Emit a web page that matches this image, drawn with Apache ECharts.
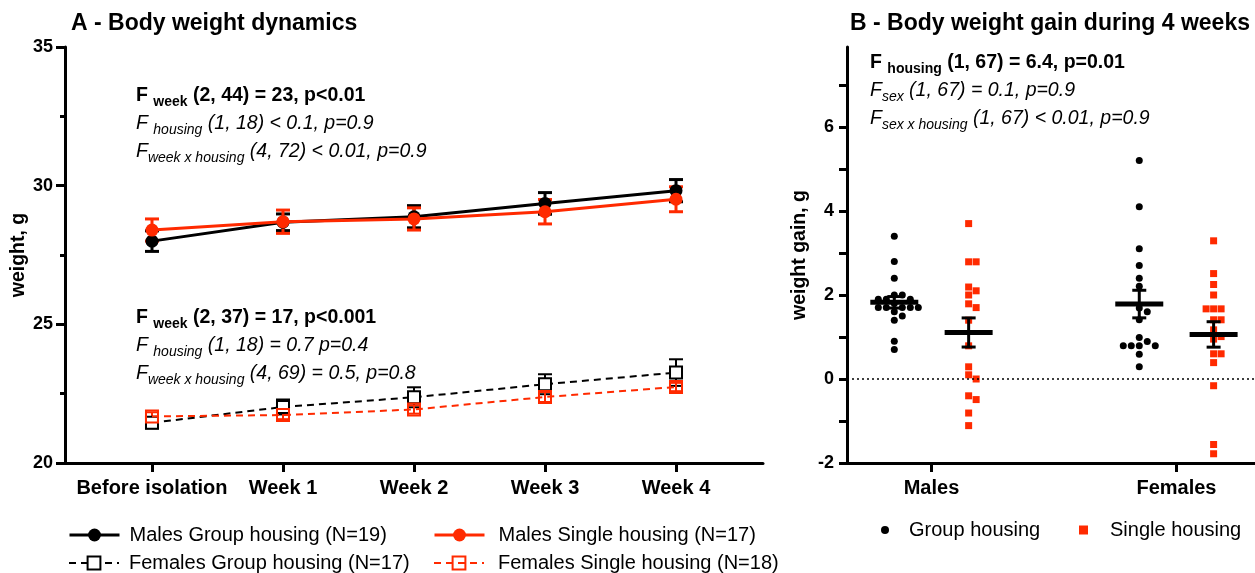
<!DOCTYPE html>
<html><head><meta charset="utf-8">
<script src="https://cdn.jsdelivr.net/npm/echarts@6/dist/echarts.min.js"></script>
<style>html,body{margin:0;padding:0;background:#fff}#c{width:1255px;height:573px}</style>
</head><body><div id="c"></div>
<script>
// ---------- Panel A data ----------
const weeks = ['Before isolation', 'Week 1', 'Week 2', 'Week 3', 'Week 4'];
const malesGroupMean = [28.0, 28.68, 28.88, 29.36, 29.82];
const malesGroupSE = [0.37, 0.30, 0.40, 0.39, 0.40];
const malesSingleMean = [28.40, 28.70, 28.80, 29.06, 29.51];
const malesSingleSE = [0.40, 0.42, 0.40, 0.44, 0.45];
const femalesGroupMean = [21.45, 22.02, 22.37, 22.84, 23.26];
const femalesGroupSE = [0.20, 0.27, 0.36, 0.36, 0.48];
const femalesSingleMean = [21.68, 21.73, 21.93, 22.38, 22.74];
const femalesSingleSE = [0.15, 0.15, 0.15, 0.18, 0.15];
const seriesNamesA = ['Males Group housing (N=19)', 'Males Single housing (N=17)',
  'Females Group housing (N=17)', 'Females Single housing (N=18)'];

// ---------- Panel B data ----------
const sexes = ['Males', 'Females'];
const malesGroupGain = [3.4, 2.8, 2.4, 2.0, 2.0, 1.9, 1.9, 1.9, 1.8, 1.7, 1.7, 1.7, 1.7, 1.7, 1.6, 1.5, 1.4, 0.9, 0.7];
const malesSingleGain = [3.7, 2.79, 2.79, 2.19, 2.1, 2.0, 1.79, 1.7, 1.4, 0.79, 0.29, 0.1, 0.0, -0.4, -0.49, -0.81, -1.11];
const femalesGroupGain = [5.2, 4.1, 3.1, 2.7, 2.4, 2.21, 1.69, 1.6, 1.41, 0.99, 0.89, 0.79, 0.79, 0.79, 0.79, 0.59, 0.29];
const femalesSingleGain = [3.29, 2.51, 2.25, 2.0, 1.67, 1.67, 1.67, 1.41, 1.41, 1.17, 1.01, 0.95, 0.6, 0.6, 0.39, -0.16, -1.56, -1.78];

// ---------- style / layout ----------
const FF = '"Liberation Sans", Arial, Helvetica, sans-serif';
const RED = '#ff2a00';
const sexPos = [1, 3.9];          // x positions of the two sex categories in panel B
const groupShift = 0.44;          // group / single offset in panel B
const bXmax = 4.83;
const gridTop = 47, gridBottom = 110;
const bLeft = 847, bWidth = 1255 - 847;
const pxPerX = bWidth / bXmax;
const bYmin = -2, bYmax = -2 + (573 - gridTop - gridBottom) / 42;
const pxPerY = (573 - gridTop - gridBottom) / (bYmax - bYmin);

function swarm(values, spacing) {
  const order = values.map((v, i) => i).sort((a, b) => values[b] - values[a]);
  const placed = [], offs = new Array(values.length);
  order.forEach(i => {
    const y = values[i] * pxPerY;
    for (let k = 0; k < 40; k++) {
      const cand = (k === 0 ? 0 : (k % 2 ? 1 : -1) * Math.ceil(k / 2)) * spacing;
      const ok = placed.every(p => (p.x - cand) ** 2 + (p.y - y) ** 2 >= spacing * spacing * 0.95);
      if (ok) { offs[i] = cand; placed.push({ x: cand, y }); break; }
    }
  });
  return offs;
}
function points(values, center, spacing) {
  const o = swarm(values, spacing);
  return values.map((v, i) => [center + o[i] / pxPerX, v]);
}
function meanSem(values) {
  const n = values.length, m = values.reduce((a, b) => a + b, 0) / n;
  const sd = Math.sqrt(values.reduce((a, b) => a + (b - m) ** 2, 0) / (n - 1));
  return [m, sd / Math.sqrt(n)];
}

const groupPts = points(malesGroupGain, sexPos[0] - groupShift, 8).concat(points(femalesGroupGain, sexPos[1] - groupShift, 8));
const singlePts = points(malesSingleGain, sexPos[0] + groupShift, 7.5).concat(points(femalesSingleGain, sexPos[1] + groupShift, 7.5));
const summaries = [
  [sexPos[0] - groupShift, ...meanSem(malesGroupGain)],
  [sexPos[0] + groupShift, ...meanSem(malesSingleGain)],
  [sexPos[1] - groupShift, ...meanSem(femalesGroupGain)],
  [sexPos[1] + groupShift, ...meanSem(femalesSingleGain)]
];

function errSeries(mean, se, color, w) {
  return {
    type: 'custom', xAxisIndex: 0, yAxisIndex: 0, z: 1, silent: true,
    data: mean.map((v, i) => [i, v, se[i]]), encode: { x: 0, y: 1 },
    renderItem(params, api) {
      const x = api.value(0), m = api.value(1), s = api.value(2);
      const t = api.coord([x, m + s]), b = api.coord([x, m - s]);
      const st = { stroke: color, lineWidth: w };
      return { type: 'group', children: [
        { type: 'line', shape: { x1: t[0], y1: t[1], x2: b[0], y2: b[1] }, style: st },
        { type: 'line', shape: { x1: t[0] - 7, y1: t[1], x2: t[0] + 7, y2: t[1] }, style: st },
        { type: 'line', shape: { x1: b[0] - 7, y1: b[1], x2: b[0] + 7, y2: b[1] }, style: st }
      ] };
    }
  };
}

const axisLineStyle = { color: '#000', width: 3 };
const tickLabel = { color: '#000', fontFamily: FF, fontWeight: 'bold', fontSize: 18 };

function annot(x, y, main, sub, rest, bold) {
  const base = { fontFamily: FF, fontSize: 19.5, lineHeight: 26, verticalAlign: 'middle', fill: '#000',
    fontWeight: bold ? 'bold' : 'normal', fontStyle: bold ? 'normal' : 'italic' };
  return {
    type: 'text', x, y, silent: true,
    style: {
      text: '{m|' + main + '}{s|' + sub + '}{m|' + rest + '}',
      verticalAlign: 'middle', align: 'left',
      rich: {
        m: base,
        s: Object.assign({}, base, { fontSize: 14, lineHeight: 14, verticalAlign: 'bottom' })
      }
    }
  };
}
function legendItem(name, left, top, w, h, padLeft, lw) {
  const l = { left, top, padding: 0, itemWidth: w, itemHeight: h, data: [name], selectedMode: false,
    textStyle: { color: '#000', fontFamily: FF, fontSize: 20, lineHeight: 20, padding: [0, 0, 0, padLeft] } };
  if (lw) l.lineStyle = { width: lw };
  return l;
}

const option = {
  animation: false,
  backgroundColor: '#fff',
  grid: [
    { left: 65, top: gridTop, width: 698, bottom: gridBottom },
    { left: bLeft, top: gridTop, width: bWidth, bottom: gridBottom }
  ],
  xAxis: [
    { type: 'value', gridIndex: 0, min: -0.664, max: 4.664,
      axisLine: { onZero: false, lineStyle: axisLineStyle },
      axisTick: { show: true, customValues: [0, 1, 2, 3, 4], length: 9, lineStyle: axisLineStyle },
      axisLabel: { customValues: [0, 1, 2, 3, 4], formatter: v => weeks[Math.round(v)], margin: 15,
        color: '#000', fontFamily: FF, fontWeight: 'bold', fontSize: 20 },
      splitLine: { show: false } },
    { type: 'value', gridIndex: 1, min: 0, max: bXmax,
      axisLine: { onZero: false, lineStyle: axisLineStyle },
      axisTick: { show: true, customValues: sexPos, length: 9, lineStyle: axisLineStyle },
      axisLabel: { customValues: sexPos, formatter: v => sexes[sexPos.indexOf(v)], margin: 15,
        color: '#000', fontFamily: FF, fontWeight: 'bold', fontSize: 20 },
      splitLine: { show: false } }
  ],
  yAxis: [
    { type: 'value', gridIndex: 0, min: 20, max: 35, interval: 5,
      axisLine: { show: true, onZero: false, lineStyle: axisLineStyle },
      axisTick: { show: true, length: 9, lineStyle: axisLineStyle },
      minorTick: { show: true, splitNumber: 2, length: 5, lineStyle: axisLineStyle },
      axisLabel: Object.assign({ margin: 12 }, tickLabel),
      splitLine: { show: false }, minorSplitLine: { show: false } },
    { type: 'value', gridIndex: 1, min: bYmin, max: bYmax, interval: 1,
      axisLine: { show: true, onZero: false, lineStyle: axisLineStyle },
      axisTick: { show: true, length: 8, lineStyle: axisLineStyle },
      axisLabel: Object.assign({ margin: 13, showMaxLabel: false,
        formatter: v => (Math.round(v) % 2 === 0 && v <= 6 ? String(v) : '') }, tickLabel),
      splitLine: { show: false } }
  ],
  legend: [
    legendItem(seriesNamesA[0], 68, 525, 50, 16, 5, 3),
    legendItem(seriesNamesA[2], 68, 553, 50, 16, 5, 2),
    legendItem(seriesNamesA[1], 433, 525, 50, 16, 9, 3),
    legendItem(seriesNamesA[3], 433, 553, 50, 16, 9, 2),
    legendItem('Group housing', 881, 520, 8, 8, 15),
    legendItem('Single housing', 1079, 520, 9, 9, 17)
  ],
  series: [
    errSeries(malesGroupMean, malesGroupSE, '#000', 3),
    errSeries(malesSingleMean, malesSingleSE, RED, 3),
    errSeries(femalesGroupMean, femalesGroupSE, '#000', 2),
    errSeries(femalesSingleMean, femalesSingleSE, RED, 2),
    { name: seriesNamesA[0], type: 'line', xAxisIndex: 0, yAxisIndex: 0, z: 3,
      data: malesGroupMean.map((v, i) => [i, v]), symbol: 'circle', symbolSize: 13,
      lineStyle: { color: '#000', width: 3 }, itemStyle: { color: '#000' } },
    { name: seriesNamesA[1], type: 'line', xAxisIndex: 0, yAxisIndex: 0, z: 4,
      data: malesSingleMean.map((v, i) => [i, v]), symbol: 'circle', symbolSize: 13,
      lineStyle: { color: RED, width: 3 }, itemStyle: { color: RED } },
    { name: seriesNamesA[2], type: 'line', xAxisIndex: 0, yAxisIndex: 0, z: 3,
      data: femalesGroupMean.map((v, i) => [i, v]), symbol: 'rect', symbolSize: 12,
      lineStyle: { color: '#000', width: 2, type: [7, 5] },
      itemStyle: { color: '#fff', borderColor: '#000', borderWidth: 2 } },
    { name: seriesNamesA[3], type: 'line', xAxisIndex: 0, yAxisIndex: 0, z: 4,
      data: femalesSingleMean.map((v, i) => [i, v]), symbol: 'rect', symbolSize: 12,
      lineStyle: { color: RED, width: 2, type: [7, 5] },
      itemStyle: { color: 'rgba(255,255,255,0)', borderColor: RED, borderWidth: 2 } },
    { name: 'Group housing', type: 'scatter', xAxisIndex: 1, yAxisIndex: 1, z: 3,
      data: groupPts, symbol: 'circle', symbolSize: 7, itemStyle: { color: '#000', opacity: 1 },
      markLine: { silent: true, symbol: ['none', 'none'], label: { show: false },
        lineStyle: { color: '#000', type: [2, 3], width: 1.5 }, data: [{ yAxis: 0 }] } },
    { name: 'Single housing', type: 'scatter', xAxisIndex: 1, yAxisIndex: 1, z: 3,
      data: singlePts, symbol: 'rect', symbolSize: 7, itemStyle: { color: RED, opacity: 1 } },
    { type: 'custom', xAxisIndex: 1, yAxisIndex: 1, z: 5, silent: true,
      data: summaries, encode: { x: 0, y: 1 },
      renderItem(params, api) {
        const x = api.value(0), m = api.value(1), s = api.value(2);
        const c = api.coord([x, m]), t = api.coord([x, m + s]), b = api.coord([x, m - s]);
        const st = { stroke: '#000', lineWidth: 3 };
        return { type: 'group', children: [
          { type: 'line', shape: { x1: c[0] - 24, y1: c[1], x2: c[0] + 24, y2: c[1] }, style: { stroke: '#000', lineWidth: 5 } },
          { type: 'line', shape: { x1: c[0], y1: t[1], x2: c[0], y2: b[1] }, style: st },
          { type: 'line', shape: { x1: c[0] - 7, y1: t[1], x2: c[0] + 7, y2: t[1] }, style: st },
          { type: 'line', shape: { x1: c[0] - 7, y1: b[1], x2: c[0] + 7, y2: b[1] }, style: st }
        ] };
      } }
  ],
  graphic: [
    { type: 'text', x: 71, y: 24, style: { text: 'A - Body weight dynamics', fontFamily: FF, fontWeight: 'bold', fontSize: 23, fill: '#000', verticalAlign: 'middle' } },
    { type: 'text', x: 850, y: 24, style: { text: 'B - Body weight gain during 4 weeks', fontFamily: FF, fontWeight: 'bold', fontSize: 23, fill: '#000', verticalAlign: 'middle' } },
    { type: 'text', x: 19, y: 255, rotation: Math.PI / 2, style: { text: 'weight, g', fontFamily: FF, fontWeight: 'bold', fontSize: 19.5, fill: '#000', align: 'center', verticalAlign: 'middle' } },
    { type: 'text', x: 800, y: 255, rotation: Math.PI / 2, style: { text: 'weight gain, g', fontFamily: FF, fontWeight: 'bold', fontSize: 19.5, fill: '#000', align: 'center', verticalAlign: 'middle' } },
    annot(136, 96, 'F ', 'week', ' (2, 44) = 23, p<0.01', true),
    annot(136, 124, 'F ', 'housing', ' (1, 18) < 0.1, p=0.9', false),
    annot(136, 152, 'F', 'week x housing', ' (4, 72) < 0.01, p=0.9', false),
    annot(136, 318, 'F ', 'week', ' (2, 37) = 17, p<0.001', true),
    annot(136, 346, 'F ', 'housing', ' (1, 18) = 0.7 p=0.4', false),
    annot(136, 374, 'F', 'week x housing', ' (4, 69) = 0.5, p=0.8', false),
    annot(870, 63, 'F ', 'housing', ' (1, 67) = 6.4, p=0.01', true),
    annot(870, 91, 'F', 'sex', ' (1, 67) = 0.1, p=0.9', false),
    annot(870, 119, 'F', 'sex x housing', ' (1, 67) < 0.01, p=0.9', false)
  ]
};
const chart = echarts.init(document.getElementById('c'), null, { renderer: 'canvas' });
chart.setOption(option);
</script>
</body></html>
